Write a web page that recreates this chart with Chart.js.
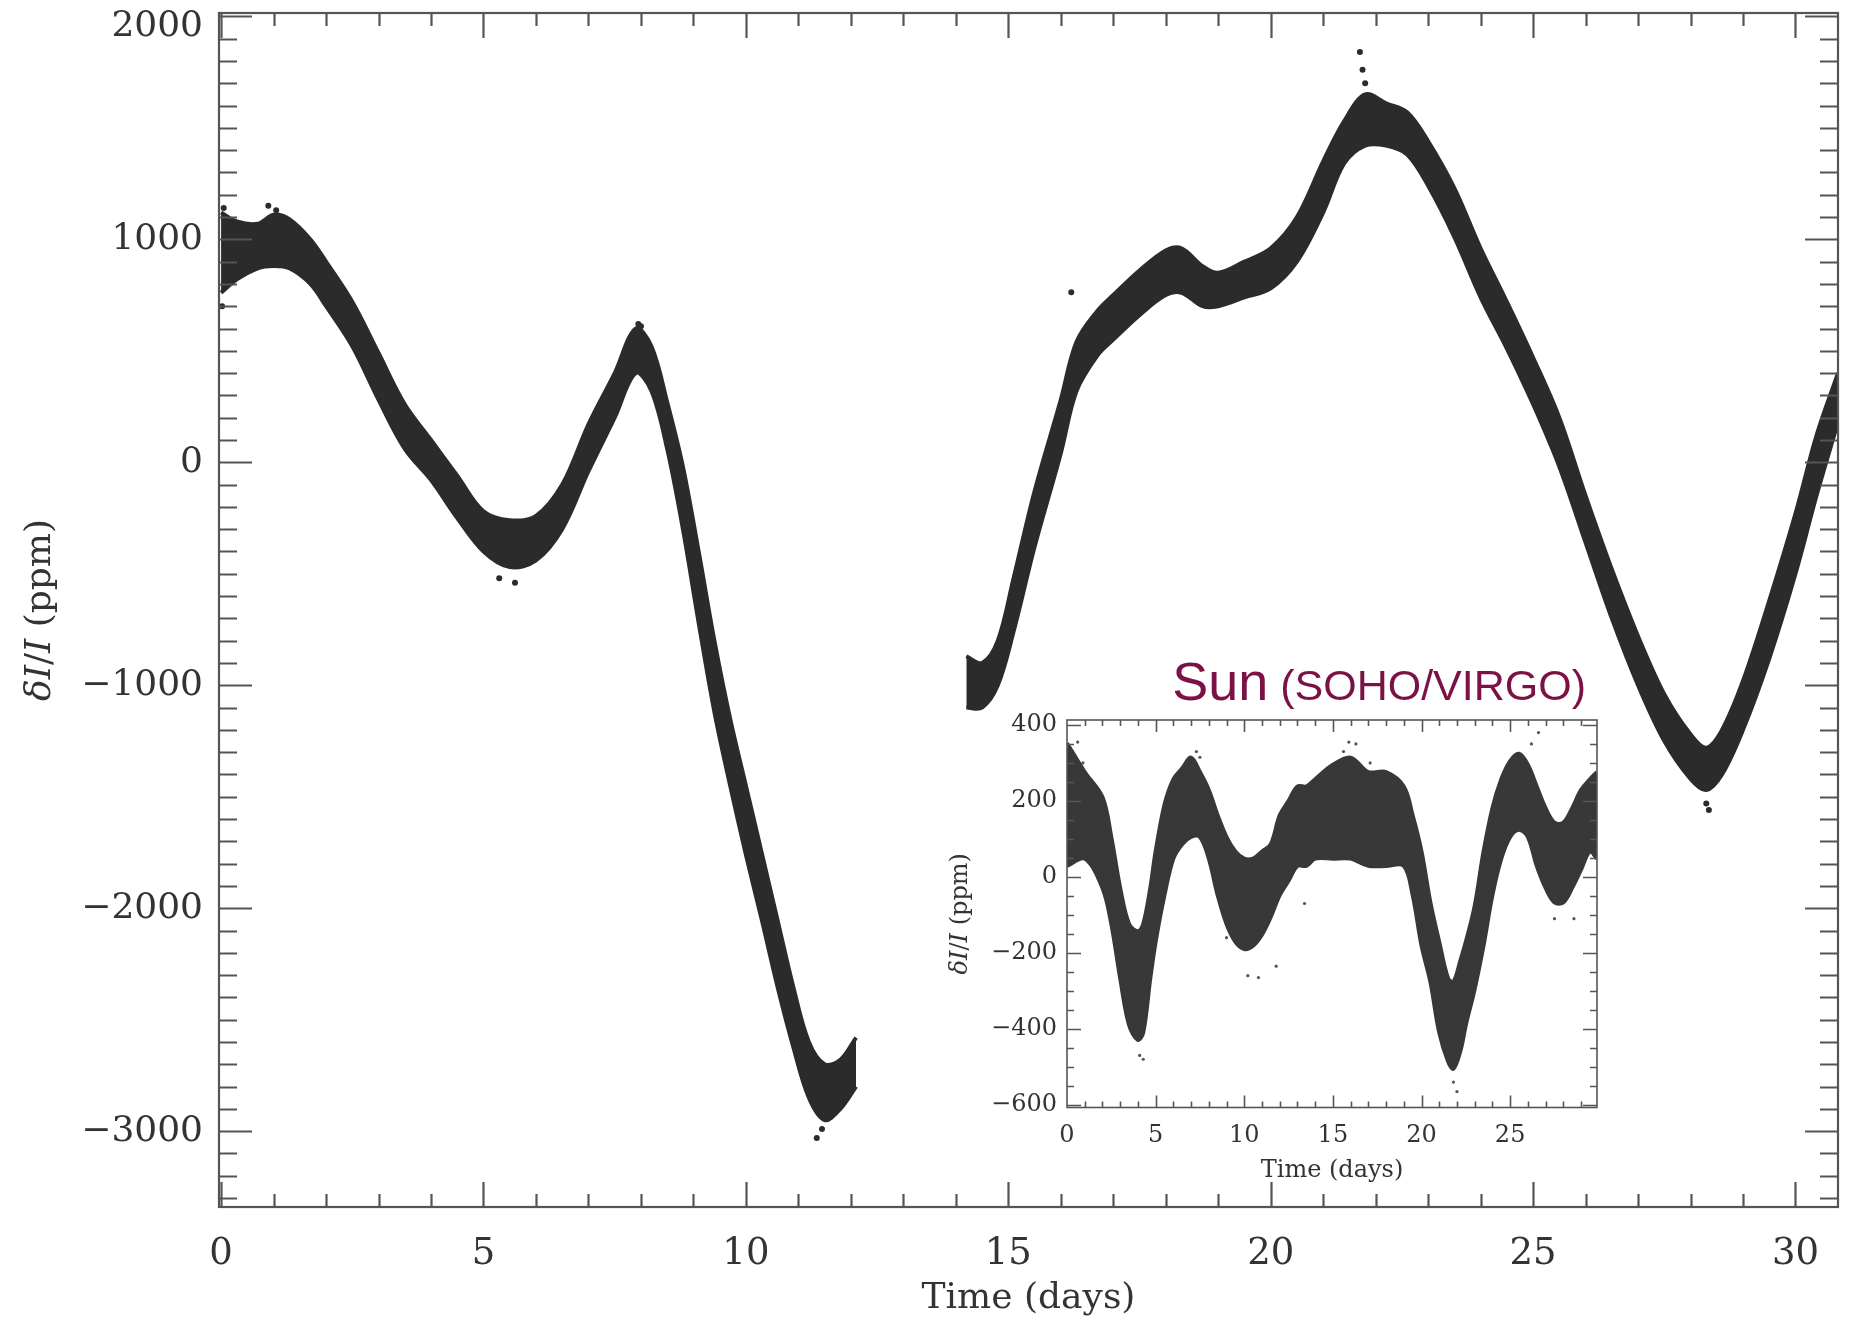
<!DOCTYPE html>
<html><head><meta charset="utf-8">
<script src="https://cdn.jsdelivr.net/npm/chart.js@4/dist/chart.umd.min.js"></script>
<style>
html,body{margin:0;padding:0;background:#fff;}
#wrap{position:relative;width:1849px;height:1323px;overflow:hidden;}
#main{position:absolute;left:0;top:0;}
#inset{position:absolute;left:940px;top:640px;}
</style></head><body>
<div id="wrap"><canvas id="main" width="1849" height="1323"></canvas><canvas id="inset" width="670" height="560"></canvas></div>
<script>
// ---------------- main light curve (ppm) ----------------
const mainSeg1Time  = [0.0,0.3,0.7,1.0,1.3,1.7,2.0,2.5,3.0,3.5,4.0,4.5,5.0,5.5,6.0,6.5,7.0,7.5,7.9,8.2,8.5,8.8,9.1,9.4,9.7,10.0,10.3,10.6,10.9,11.2,11.5,11.8,12.1];
const mainSeg1Upper = [1120,1080,1070,1110,1090,1000,900,720,490,260,100,-60,-220,-260,-240,-100,170,400,600,520,270,-20,-400,-800,-1150,-1450,-1750,-2050,-2350,-2600,-2700,-2680,-2580];
const mainSeg1Lower = [760,820,870,880,870,800,700,520,280,60,-80,-250,-400,-470,-440,-300,-40,200,400,320,60,-300,-720,-1120,-1450,-1760,-2050,-2350,-2620,-2850,-2950,-2900,-2800];

const mainSeg2Time  = [14.2,14.5,14.8,15.1,15.5,16.0,16.3,16.7,17.0,17.5,18.0,18.3,18.7,19.0,19.5,20.0,20.5,21.0,21.4,21.8,22.2,22.6,23.0,23.5,24.0,24.5,25.0,25.5,26.0,26.5,27.0,27.5,28.0,28.3,28.6,29.0,29.5,30.0,30.4,30.81];
const mainSeg2Upper = [-870,-900,-800,-520,-130,280,540,680,750,860,950,960,880,850,900,960,1100,1350,1530,1650,1610,1570,1440,1230,960,720,470,200,-150,-480,-780,-1040,-1220,-1280,-1200,-980,-620,-230,120,400];
const mainSeg2Lower = [-1100,-1100,-1000,-760,-380,40,320,480,550,660,750,760,700,700,740,780,900,1120,1340,1420,1420,1380,1240,1010,740,510,260,-20,-360,-700,-1000,-1250,-1420,-1470,-1400,-1200,-880,-500,-150,180];

const mainOutlierTime  = [0.02,0.05,0.9,1.05,7.95,8.0,5.6,5.3,11.35,11.45,16.2,21.7,21.75,21.8,28.35,28.3,24.9,22.9];
const mainOutlierValue = [700,1140,1150,1130,620,610,-540,-520,-3030,-2990,763,1840,1760,1700,-1560,-1530,480,1330];

const mainXTicks = [0,5,10,15,20,25,30];
const mainYTicks = [2000,1000,0,-1000,-2000,-3000];

// ---------------- inset: Sun (SOHO/VIRGO) ----------------
const insetTime  = [0,1,2,2.5,3,3.5,4,4.3,4.7,5,5.5,6,6.5,7,7.5,8,8.5,9,9.5,10,10.5,11,11.5,12,12.5,13,13.5,14,15,16,17,18,19,19.5,20,20.5,21,21.5,21.8,22.2,22.5,23,23.5,24,24.5,25,25.5,26,26.5,27,27.5,28,28.5,29,29.5,29.9];
const insetUpper = [352,276,210,105,-29,-124,-143,-124,-29,67,190,257,286,314,276,229,162,105,67,48,48,67,86,162,200,238,238,257,295,314,276,276,238,162,67,-67,-171,-267,-276,-219,-171,-76,67,181,257,305,324,295,238,181,143,143,181,229,257,276];
const insetLower = [29,48,-29,-124,-267,-390,-429,-410,-267,-171,-48,48,86,105,105,48,-48,-124,-171,-190,-181,-152,-105,-48,-10,29,29,48,48,48,29,29,29,-48,-181,-276,-410,-486,-505,-457,-390,-295,-181,-48,48,105,124,105,29,-29,-67,-67,-29,19,67,48];
const insetOutlierTime  = [0.3,0.6,0.9,4.1,4.3,7.3,7.5,10.2,10.8,11.8,15.6,15.9,16.3,17.1,21.8,22.0,26.2,26.6,27.5,28.6,9.0,13.4];
const insetOutlierValue = [330,355,300,-470,-480,330,315,-260,-265,-235,330,355,350,300,-540,-565,350,380,-110,-110,-160,-70];

const insetXTicks = [0,5,10,15,20,25];
const insetYTicks = [400,200,0,-200,-400,-600];

// ---------------- helpers ----------------
const INK = '#2b2b2b', AXIS = '#555555', TXT = '#333333';
const SERIF = '"DejaVu Serif", serif';
function pts(t, v){ return t.map((x,i)=>({x:x, y:v[i]})); }
function band(t, hi, lo, fillC, lineC, bw){
  return [
    {data: pts(t,hi), showLine:true, fill:'+1', backgroundColor: fillC, borderColor: lineC, borderWidth: bw, pointRadius:0, tension:0.35},
    {data: pts(t,lo), showLine:true, fill:false, backgroundColor: fillC, borderColor: lineC, borderWidth: bw, pointRadius:0, tension:0.35}
  ];
}
function fmt(v){ return v<0 ? '\u2212'+Math.abs(v) : String(v); }

function framePlugin(c){
  return { id: 'frame_'+c.name, afterDraw(chart){
    const ctx = chart.ctx, a = chart.chartArea, xs = chart.scales.x, ys = chart.scales.y;
    ctx.save();
    ctx.strokeStyle = AXIS; ctx.lineWidth = c.lw; ctx.lineCap = 'butt';
    ctx.beginPath();
    for (let i = Math.ceil(xs.min/c.xMinor); i*c.xMinor <= xs.max + 1e-9; i++){
      const px = Math.round(xs.getPixelForValue(i*c.xMinor)) + 0.5;
      if (px <= a.left + 2 || px >= a.right - 2) continue;
      const L = (i % c.xEvery === 0) ? c.xMaj : c.xMin;
      ctx.moveTo(px, a.bottom); ctx.lineTo(px, a.bottom - L);
      ctx.moveTo(px, a.top); ctx.lineTo(px, a.top + L);
    }
    for (let i = Math.ceil(ys.min/c.yMinor); i*c.yMinor <= ys.max + 1e-9; i++){
      const py = Math.round(ys.getPixelForValue(i*c.yMinor)) + 0.5;
      if (py <= a.top + 1 || py >= a.bottom - 1) continue;
      const L = (i % c.yEvery === 0) ? c.yMaj : c.yMin;
      ctx.moveTo(a.left, py); ctx.lineTo(a.left + L, py);
      ctx.moveTo(a.right, py); ctx.lineTo(a.right - L, py);
    }
    ctx.stroke();
    ctx.strokeRect(a.left, a.top, a.right - a.left, a.bottom - a.top);
    ctx.restore();
  }};
}
function drawRuns(ctx, runs, cx, cy){
  let w = 0;
  runs.forEach(r => { ctx.font = r.f; w += ctx.measureText(r.t).width; });
  let x = cx - w/2;
  ctx.textBaseline = 'middle'; ctx.textAlign = 'left';
  runs.forEach(r => { ctx.font = r.f; ctx.fillText(r.t, x, cy); x += ctx.measureText(r.t).width; });
}
function titlesPlugin(c){
  return { id: 'titles_'+c.name, afterDraw(chart){
    const ctx = chart.ctx, a = chart.chartArea;
    ctx.save(); ctx.fillStyle = TXT;
    const n = c.size + 'px ' + SERIF, it = 'italic ' + c.size + 'px ' + SERIF;
    drawRuns(ctx, [{t:'Time (days)', f:n}], (a.left + a.right)/2, c.xTitleY);
    ctx.translate(c.yTitleX, (a.top + a.bottom)/2);
    ctx.rotate(-Math.PI/2);
    drawRuns(ctx, [{t:'\u03B4', f:it},{t:'I', f:it},{t:'/', f:n},{t:'I', f:it},{t:' (ppm)', f:n}], 0, 0);
    ctx.restore();
    if (c.sun){
      ctx.save(); ctx.fillStyle = '#7b1144'; ctx.textBaseline = 'alphabetic'; ctx.textAlign = 'left';
      const f1 = '54px "Liberation Sans", Arial, sans-serif', f2 = '43px "Liberation Sans", Arial, sans-serif';
      ctx.font = f2; const w2 = ctx.measureText(' (SOHO/VIRGO)').width;
      ctx.font = f1; const w1 = ctx.measureText('Sun').width;
      const x0 = c.sun.right - w1 - w2;
      ctx.fillText('Sun', x0, c.sun.base);
      ctx.font = f2; ctx.fillText(' (SOHO/VIRGO)', x0 + w1, c.sun.base);
      ctx.restore();
    }
  }};
}
function fixTicks(vals){ return function(s){ s.ticks = vals.map(v => ({value:v})); }; }
function noPad(s){ s.paddingTop = 0; s.paddingBottom = 0; s.paddingLeft = 0; s.paddingRight = 0; }

Chart.defaults.font.family = SERIF;
Chart.defaults.color = TXT;

// ---------------- main chart ----------------
const topY = mainYTicks[0];
new Chart(document.getElementById('main'), {
  type: 'scatter',
  data: { datasets: [
    ...band(mainSeg1Time, mainSeg1Upper, mainSeg1Lower, INK, INK, 4),
    ...band(mainSeg2Time, mainSeg2Upper, mainSeg2Lower, INK, INK, 4),
    {data: pts(mainOutlierTime, mainOutlierValue), pointRadius: 3, pointBackgroundColor: INK, pointBorderWidth: 0, showLine:false}
  ]},
  options: {
    responsive:false, animation:false, devicePixelRatio:1,
    layout: { padding: { top: 13, right: 11, left: 0, bottom: 0 } },
    plugins: { legend:{display:false}, tooltip:{enabled:false} },
    scales: {
      x: { type:'linear', min:-0.04, max:30.81,
           grid:{display:false, drawTicks:false}, border:{display:false},
           afterBuildTicks: fixTicks(mainXTicks),
           afterFit(s){ s.height = 116; noPad(s); },
           ticks:{ font:{size:37}, padding:25, maxRotation:0, callback: v => fmt(v) } },
      y: { type:'linear', min:-3340, max:2015,
           grid:{display:false, drawTicks:false}, border:{display:false},
           afterBuildTicks: fixTicks(mainYTicks),
           afterFit(s){ s.width = 219; noPad(s); },
           ticks:{ font: c => ({size:36, lineHeight: (c.tick && c.tick.value === topY) ? 0.55 : 1.2}),
                   padding:16,
                   callback: v => v === topY ? ['', fmt(v)] : fmt(v) } }
    }
  },
  plugins: [
    framePlugin({name:'m', lw:2.2, xMinor:1, xEvery:5, xMaj:25, xMin:13, yMinor:100, yEvery:10, yMaj:33, yMin:18}),
    titlesPlugin({name:'m', size:36, xTitleY:1299, yTitleX:41})
  ]
});

// ---------------- inset chart ----------------
new Chart(document.getElementById('inset'), {
  type: 'scatter',
  data: { datasets: [
    ...band(insetTime, insetUpper, insetLower, '#383838', '#383838', 4),
    {data: pts(insetOutlierTime, insetOutlierValue), pointRadius: 1.6, pointBackgroundColor: '#555', pointBorderWidth: 0, showLine:false}
  ]},
  options: {
    responsive:false, animation:false, devicePixelRatio:1,
    layout: { padding: { top: 80, right: 13, left: 0, bottom: 0 } },
    plugins: { legend:{display:false}, tooltip:{enabled:false} },
    scales: {
      x: { type:'linear', min:0, max:29.9,
           grid:{display:false, drawTicks:false}, border:{display:false},
           afterBuildTicks: fixTicks(insetXTicks),
           afterFit(s){ s.height = 92.5; noPad(s); },
           ticks:{ font:{size:24}, padding:14, maxRotation:0, callback: v => fmt(v) } },
      y: { type:'linear', min:-607, max:413,
           grid:{display:false, drawTicks:false}, border:{display:false},
           afterBuildTicks: fixTicks(insetYTicks),
           afterFit(s){ s.width = 127; noPad(s); },
           ticks:{ font:{size:24}, padding:10, callback: v => fmt(v) } }
    }
  },
  plugins: [
    framePlugin({name:'i', lw:1.6, xMinor:1, xEvery:5, xMaj:12, xMin:6, yMinor:50, yEvery:4, yMaj:14, yMin:7}),
    titlesPlugin({name:'i', size:24, xTitleY:531, yTitleX:21, sun:{right:646, base:60}})
  ]
});
</script>
</body></html>
